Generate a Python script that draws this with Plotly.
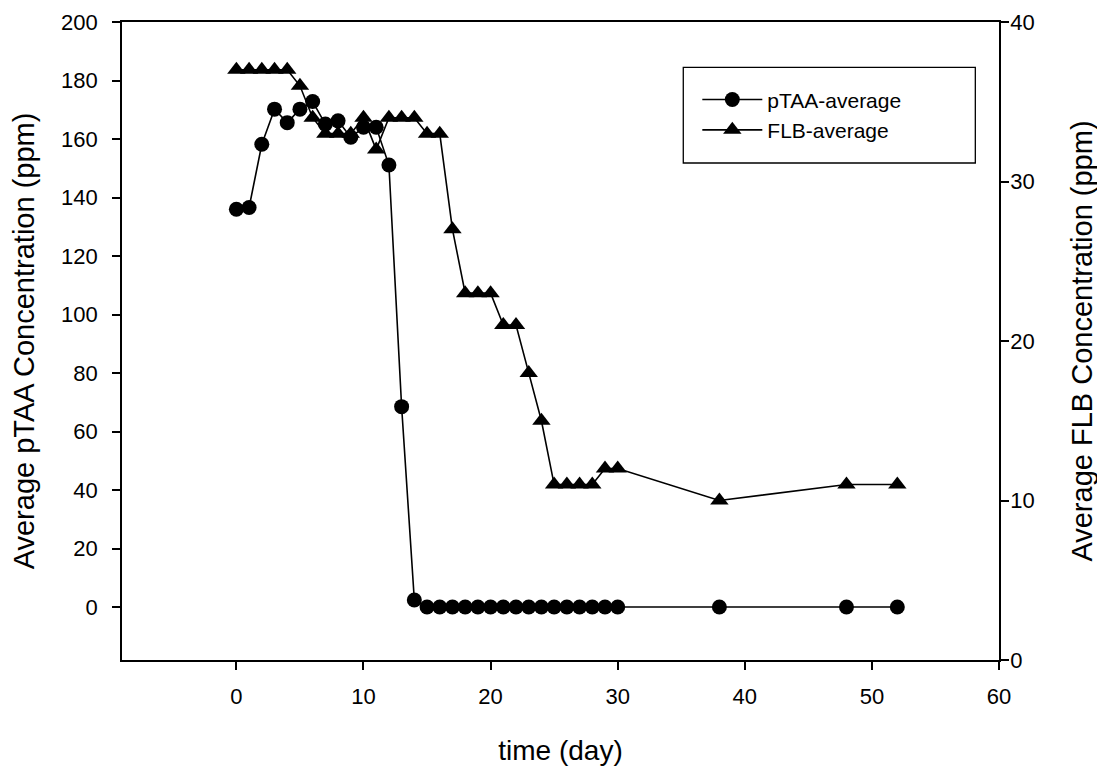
import plotly.graph_objects as go

# ---- data ----
days = list(range(0, 31)) + [38, 48, 52]

ptaa = [136.0, 136.6, 158.2, 170.2, 165.6, 170.2, 172.8, 165.1, 166.2, 160.6,
        164.0, 164.0, 151.1, 68.5, 2.4] + [0.0] * 16 + [0.0, 0.0, 0.0]

flb = [37.0, 37.0, 37.0, 37.0, 37.0, 36.0, 34.0, 33.0, 33.0, 33.0,
       34.0, 32.0, 34.0, 34.0, 34.0, 33.0, 33.0, 27.0, 23.0, 23.0,
       23.0, 21.0, 21.0, 18.0, 15.0, 11.0, 11.0, 11.0, 11.0, 12.0,
       12.0, 10.0, 11.0, 11.0]

x_ticks = [0, 10, 20, 30, 40, 50, 60]
y_ticks = [0, 20, 40, 60, 80, 100, 120, 140, 160, 180, 200]
y2_ticks = [0, 10, 20, 30, 40]

FONT = "Liberation Sans, Arial, sans-serif"

fig = go.Figure()
fig.add_trace(go.Scatter(
    x=days, y=ptaa, name="pTAA-average", mode="lines+markers",
    line=dict(color="black", width=1.6),
    marker=dict(symbol="circle", size=15, color="black"),
))
fig.add_trace(go.Scatter(
    x=days, y=flb, name="FLB-average", mode="lines+markers", yaxis="y2",
    line=dict(color="black", width=1.6),
    marker=dict(symbol="triangle-up", size=16, color="black"),
))

axis_common = dict(
    showgrid=False, zeroline=False, showline=True, linecolor="black", linewidth=1.6,
    ticks="outside", ticklen=8, tickwidth=1.6, tickcolor="black", automargin=False,
    tickfont=dict(family=FONT, size=22, color="black"),
)

fig.update_layout(
    width=1097, height=759,
    margin=dict(l=114, r=106, t=14, b=107),
    paper_bgcolor="white", plot_bgcolor="white",
    showlegend=True,
    xaxis=dict(range=[-9, 60], tickvals=x_ticks, mirror=True, ticklabelstandoff=8,
               title=dict(text="time (day)", font=dict(family=FONT, size=28, color="black"), standoff=32),
               **axis_common),
    yaxis=dict(range=[-18.1, 200], tickvals=y_ticks, ticklabelstandoff=10,
               title=dict(text="Average pTAA Concentration (ppm)", font=dict(family=FONT, size=29, color="black"), standoff=18),
               **axis_common),
    yaxis2=dict(range=[0, 40], tickvals=y2_ticks, overlaying="y", side="right", ticklabelstandoff=-3,
                title=dict(text="Average FLB Concentration (ppm)", font=dict(family=FONT, size=29, color="black"), standoff=38),
                **axis_common),
    legend=dict(x=0.656, y=0.91, xanchor="left", yanchor="top",
                bgcolor="rgba(0,0,0,0)", borderwidth=0,
                font=dict(family=FONT, size=21, color="black"),
                itemwidth=60, tracegroupgap=0),
    shapes=[dict(type="rect", xref="paper", yref="paper",
                 x0=0.640, x1=0.973, y0=0.779, y1=0.929,
                 line=dict(color="black", width=1.3), fillcolor="rgba(0,0,0,0)")],
)

fig.write_html("out.html")
